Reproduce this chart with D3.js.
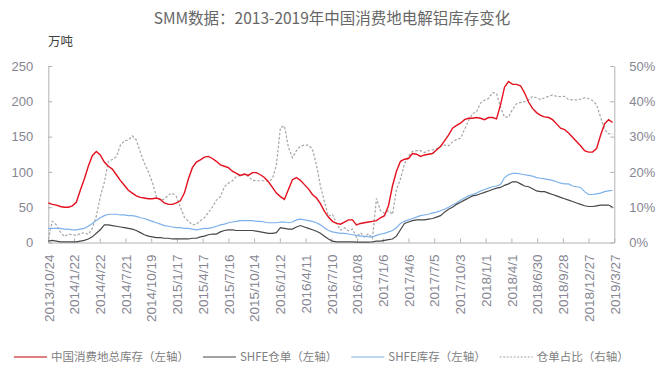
<!DOCTYPE html>
<html>
<head>
<meta charset="utf-8">
<script src="https://cdn.jsdelivr.net/npm/d3@7"></script>
<style>
  body { margin: 0; background: #fff; }
  svg { display: block; }
</style>
</head>
<body>
<div id="container"></div>
<script>
// 中国消费地总库存 (万吨), SHFE仓单, SHFE库存, 仓单占比 (%) - sampled every 14 days from 2013/10/24
const startDate = "2013-10-24";
const stepDays = 14;

const totalStock = [56,54,53,51,50,50,52,57,74,90,108,123,129,124,114,108,104,96,88,81,
  74,70,66,64,63,62,62,63,61,56,54,54,56,59,70,90,106,114,117,121,
  122,119,115,110,108,106,101,98,95,97,95,99,99,96,92,86,78,70,65,61,
  75,89,92,88,82,76,68,63,55,44,36,30,27,26,29,32,32,25,27,28,
  29,30,31,35,38,52,80,101,115,118,119,126,125,122,124,125,126,131,136,144,
  152,162,166,169,174,176,176,177,176,174,177,177,175,195,220,228,224,224,222,212,
  199,190,184,180,178,177,174,168,162,160,155,149,143,137,130,128,128,133,152,168,
  174,170];

const shfeWarrant = [2,3,2,1,1,1,1,1,2,3,5,8,13,18,25,25,24,23,22,21,
  20,19,17,14,11,9,8,7,7,6,6,5,5,5,5,5,6,6,8,9,
  11,12,12,15,17,18,18,17,17,17,17,17,16,15,14,13,13,14,21,20,
  19,19,22,24,22,20,18,16,13,9,5,2,1,1,1,1,1,0.5,0.5,0.5,
  0.5,1,2,2,3,4,5,9,18,27,29,31,32,32,32,33,34,36,38,43,
  47,50,54,57,60,63,66,67,69,71,73,75,77,78,81,83,86,86,83,80,
  79,76,73,72,72,70,68,66,64,62,60,58,56,54,52,51,51,52,53,53,
  53,50];

const shfeStock = [20,20,20,20,19,19,18,18,19,20,23,27,31,35,38,40,40,40,39,39,
  38,38,37,35,34,32,30,28,26,24,23,22,21,21,20,20,19,18,19,20,
  20,21,23,25,26,28,29,30,31,31,31,31,30,30,29,28,28,28,29,29,
  28,29,32,33,32,31,30,28,25,21,17,15,14,13,13,12,11,10,9,9,
  8,8,10,12,13,15,17,21,27,30,32,34,36,38,39,40,42,43,45,47,
  50,53,56,60,63,66,68,70,73,75,77,79,80,82,92,96,98,98,97,96,
  95,94,92,91,90,89,88,86,84,83,83,80,79,78,72,68,68,69,70,72,
  73,74];

const warrantRatio = [1,6,5,3,1.7,2.3,2.2,2,2.5,2.8,2.3,4,7.5,13,17,23,23.5,24.3,27.5,28.8,
  29,30.2,29,25.5,22.5,20,17,13,12,12.3,13.5,14,13,10,7.2,6,5,5.2,6.2,7,
  8.5,10,12,13,15.8,16.8,17.5,18.7,19,19.2,18.7,17.6,17.5,17.5,17.5,17.3,18,22,32.5,33,
  27,24,26,27.3,27.6,27.6,26.5,22,16,11.5,7.5,8,5.5,3.5,4.2,3.3,3.8,1.5,2.8,1.5,
  2.5,1.2,12.5,9,8.3,9,8,15,18,22.3,24.5,25.8,26,26,25.5,26,26.2,26.5,27.2,27.6,
  27.4,28.5,29.2,29.5,32,34.5,36.5,37,39.5,40.3,40.8,42.5,42.2,38.3,35.5,35.5,37.7,39.3,39.7,39.9,
  40.4,41.4,41,40.5,41,41.4,41.8,41.4,41.3,41.4,40.5,40.4,40.4,40.6,41,40.8,40.2,39,35.5,32,
  30.8,30.7];

const tickLabels = ["2013/10/24","2014/1/22","2014/4/22","2014/7/21","2014/10/19","2015/1/17",
  "2015/4/17","2015/7/16","2015/10/14","2016/1/12","2016/4/11","2016/7/10","2016/10/8",
  "2017/1/6","2017/4/6","2017/7/5","2017/10/3","2018/1/1","2018/4/1","2018/6/30",
  "2018/9/28","2018/12/27","2019/3/27"];

const leftTicks = [0, 50, 100, 150, 200, 250];
const rightTicks = [0, 10, 20, 30, 40, 50];

const seriesNames = ["中国消费地总库存（左轴）", "SHFE仓单（左轴）", "SHFE库存（左轴）", "仓单占比（右轴）"];

const width = 665, height = 383;
const axisColor = "#b3b3b3";
const labelColor = "#868692";

const parseTick = d3.timeParse("%Y/%m/%d");
const tickDates = tickLabels.map(parseTick);
const start = d3.timeParse("%Y-%m-%d")(startDate);
const dates = totalStock.map((_, i) => d3.timeDay.offset(start, i * stepDays));

const x = d3.scaleTime()
  .domain([tickDates[0], tickDates[tickDates.length - 1]])
  .range([48.3, 614.3]);
const yL = d3.scaleLinear().domain([0, 250]).range([242.5, 66]);
const yR = d3.scaleLinear().domain([0, 50]).range([242.5, 66]);

const svg = d3.select("#container").append("svg")
  .attr("width", width)
  .attr("height", height)
  .style("font-family", "'Liberation Sans', Arial, sans-serif");

// title
svg.append("text")
  .attr("x", 332).attr("y", 24)
  .attr("text-anchor", "middle")
  .attr("fill", "#666")
  .style("font-family", "'Noto Sans CJK SC', sans-serif")
  .style("font-size", "15.5px")
  .text("SMM数据：2013-2019年中国消费地电解铝库存变化");

svg.append("text")
  .attr("x", 48).attr("y", 46)
  .attr("fill", "#404040")
  .style("font-family", "'Noto Sans CJK SC', sans-serif")
  .style("font-size", "12.5px")
  .text("万吨");

// axes
const gL = svg.append("g")
  .attr("transform", "translate(48.3,0)")
  .call(d3.axisLeft(yL).tickValues(leftTicks).tickSize(-4).tickSizeOuter(0).tickPadding(15));

const gR = svg.append("g")
  .attr("transform", "translate(614.3,0)")
  .call(d3.axisRight(yR).tickValues(rightTicks).tickSize(-4).tickSizeOuter(0).tickPadding(15)
    .tickFormat(d => d + "%"));

const gX = svg.append("g")
  .attr("transform", "translate(0,242.5)")
  .call(d3.axisBottom(x).tickValues(tickDates).tickSize(-4).tickSizeOuter(0)
    .tickFormat((d, i) => tickLabels[i]));

[gL, gR, gX].forEach(g => {
  g.select(".domain").attr("stroke", axisColor);
  g.selectAll(".tick line").attr("stroke", axisColor);
  g.selectAll(".tick text")
    .attr("fill", labelColor)
    .style("font-family", "'Liberation Sans', Arial, sans-serif")
    .style("font-size", "13px");
});

gX.selectAll(".tick text")
  .attr("text-anchor", "end")
  .attr("transform", "translate(0,12) rotate(-90)")
  .attr("x", 0).attr("y", 0).attr("dy", "0.35em")
  .style("font-size", "13.5px");

// lines
const lineL = vals => d3.line().x((d, i) => x(dates[i])).y(d => yL(d))(vals);
const lineR = vals => d3.line().x((d, i) => x(dates[i])).y(d => yR(d))(vals);

svg.append("path").attr("d", lineR(warrantRatio))
  .attr("fill", "none").attr("stroke", "#a6a6a6").attr("stroke-width", 1.2)
  .attr("stroke-dasharray", "2.5,1.8");

svg.append("path").attr("d", lineL(shfeStock))
  .attr("fill", "none").attr("stroke", "#7eb1ea").attr("stroke-width", 1.2);

svg.append("path").attr("d", lineL(shfeWarrant))
  .attr("fill", "none").attr("stroke", "#474747").attr("stroke-width", 1.2);

svg.append("path").attr("d", lineL(totalStock))
  .attr("fill", "none").attr("stroke", "#e3101e").attr("stroke-width", 1.4);

// legend
const legendStyles = [
  { color: "#c00000", dash: null },
  { color: "#474747", dash: null },
  { color: "#7eb1ea", dash: null },
  { color: "#a6a6a6", dash: "2,1.5" }
];
const legend = svg.append("g").attr("transform", "translate(0,357)");
let lx = 14;
seriesNames.forEach((name, i) => {
  const g = legend.append("g").attr("transform", `translate(${lx},0)`);
  g.append("line").attr("x1", 0).attr("x2", 33).attr("y1", 0).attr("y2", 0)
    .attr("stroke", legendStyles[i].color).attr("stroke-width", 1.2)
    .attr("stroke-dasharray", legendStyles[i].dash);
  const t = g.append("text").attr("x", 37).attr("y", 4.3)
    .attr("fill", "#808080")
    .style("font-family", "'Noto Sans CJK SC', sans-serif")
    .style("font-size", "11.5px")
    .text(name);
  lx += 37 + t.node().getComputedTextLength() + 14;
});
</script>
</body>
</html>
